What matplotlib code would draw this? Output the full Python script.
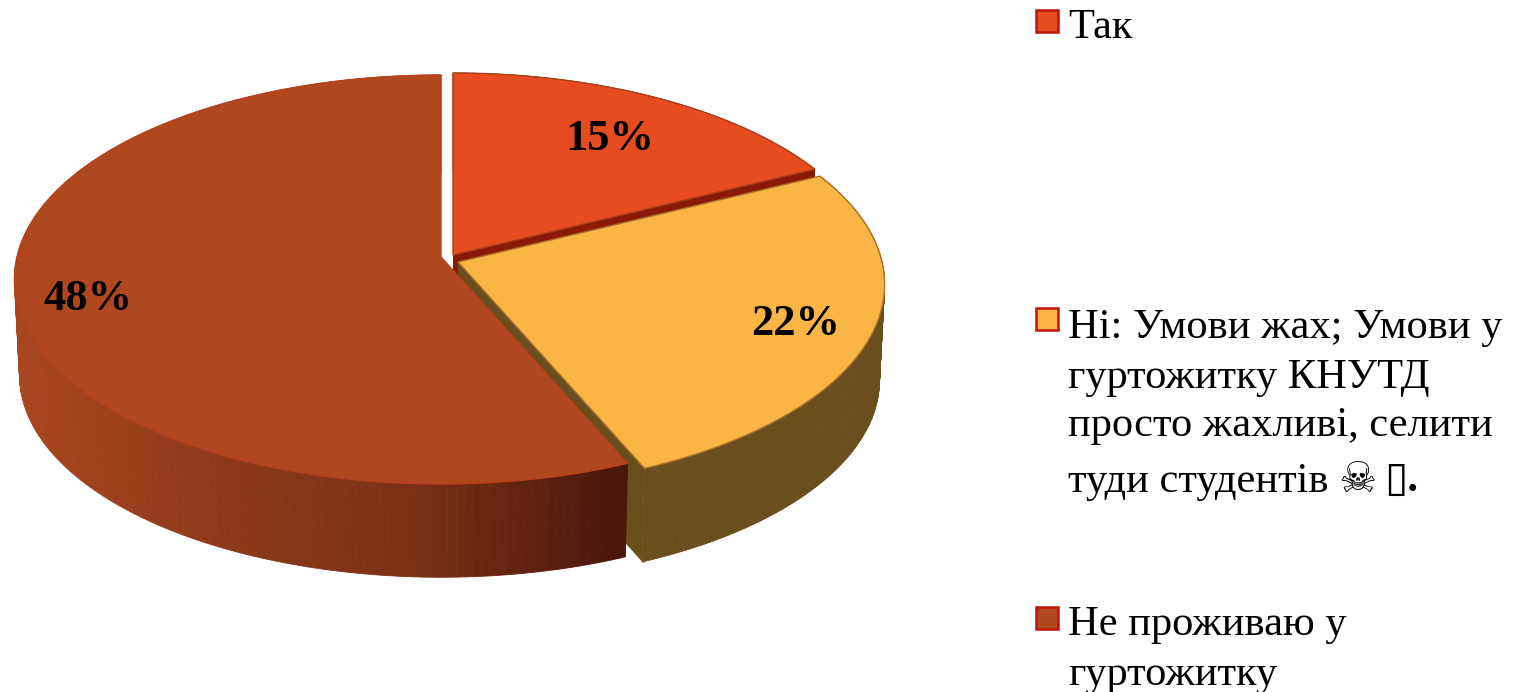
import numpy as np
import matplotlib
matplotlib.use("Agg")
from matplotlib import pyplot as plt
from matplotlib.patches import Polygon, Rectangle
from matplotlib.colors import LinearSegmentedColormap

values = [15, 22, 48]
pct_labels = ["15%", "22%", "48%"]
legend_lines = [
    ["Так"],
    ["Ні: Умови жах; Умови у", "гуртожитку КНУТД", "просто жахливі, селити", "туди студентів ☠"],
    ["Не проживаю у", "гуртожитку"],
]
legend_tail = "▯."

top_colors = ["#E64C20", "#FBB545", "#B0481F"]
edge_colors = ["#A8401C", "#A8702A", "#B8401C"]
inner_colors = ["#8A1A05", "#6B4E1E", "#5A2010"]
wall_colors = ["#8A1A05", "#6B4E1E", None]
brown_side = LinearSegmentedColormap.from_list("side", ["#A8461F", "#8E3A1A", "#7A3016", "#4A180A"])

# slice apex in pixels, each one pulled a bit out of the pie
centers = [(453, 255), (458, 262), (441, 257)]
RX, RY, K = 424, 202, 0.11
DEPTH, BOTTOM_SCALE = 96, 0.988


def project(cen, ang, r=1.0, low=False):
    u = r * np.sin(ang)
    v = r * np.cos(ang)
    w = 1 + K * v
    s = BOTTOM_SCALE if low else 1.0
    x = cen[0] + s * RX * u / w
    y = cen[1] - s * RY * v / w + (DEPTH if low else 0)
    return x, y


fig = plt.figure(figsize=(15.21, 6.92), dpi=100)
ax = fig.add_axes([0, 0, 1, 1])
ax.set_xlim(0, 1521)
ax.set_ylim(692, 0)
ax.axis("off")

edges = np.cumsum([0] + values) / sum(values) * 2 * np.pi

for i in range(len(values)):
    cen = centers[i]
    ang = np.linspace(edges[i], edges[i + 1], 200)
    xt, yt = project(cen, ang)
    xb, yb = project(cen, ang, low=True)

    # inner wall below the first cut of the slice
    xe, ye = project(cen, edges[i])
    xl, yl = project(cen, edges[i], low=True)
    ax.add_patch(Polygon([cen, (xe, ye), (xl, yl), (cen[0], cen[1] + DEPTH)],
                         fc=inner_colors[i], ec="none", zorder=i * 3 + 1))
    # inner wall below the last cut
    xe, ye = project(cen, edges[i + 1])
    xl, yl = project(cen, edges[i + 1], low=True)
    ax.add_patch(Polygon([cen, (xe, ye), (xl, yl), (cen[0], cen[1] + DEPTH)],
                         fc=inner_colors[i], ec="none", zorder=i * 3 + 1))
    if i == 1:
        ax.plot([xe + 3, xl + 1], [ye + 6, yl], color="#8A4A1A", lw=1.2, zorder=i * 3 + 1)

    # outer wall
    for j in range(len(ang) - 1):
        pts = [(xt[j], yt[j]), (xt[j + 1], yt[j + 1]), (xb[j + 1], yb[j + 1]), (xb[j], yb[j])]
        if wall_colors[i] is None:
            col = brown_side(np.clip((xt[j] - 15) / 610, 0, 1))
        else:
            col = wall_colors[i]
        ax.add_patch(Polygon(pts, fc=col, ec=col, lw=0.6, zorder=i * 3 + 1))

    # top face
    pts = np.column_stack([np.r_[cen[0], xt], np.r_[cen[1], yt]])
    ax.add_patch(Polygon(pts, fc=top_colors[i], ec=edge_colors[i], lw=1.0, zorder=i * 3 + 2))

label_pos = [(610, 139), (796, 324), (88, 299)]
for lab, (x, y) in zip(pct_labels, label_pos):
    ax.text(x, y, lab, fontsize=32, fontweight="bold", family="Liberation Serif",
            ha="center", va="center", color="black", zorder=20)

legend_tops = [10, 308, 607]
line_y = [[28], [328, 378, 426, 481], [625, 675]]
for i, lines in enumerate(legend_lines):
    ax.add_patch(Rectangle((1036, legend_tops[i]), 22, 22, fc=top_colors[i], ec="#C0140C", lw=1.8, zorder=5))
    for txt, y in zip(lines, line_y[i]):
        ax.text(1068, y, txt, fontsize=30.6, family=["Liberation Serif", "DejaVu Sans"],
                ha="left", va="center", color="black")
ax.text(1384, line_y[1][3], legend_tail, fontsize=30.6, fontweight="bold",
        family=["Liberation Serif", "DejaVu Sans"], ha="left", va="center", color="black")

fig.savefig("out.png", dpi=100)
